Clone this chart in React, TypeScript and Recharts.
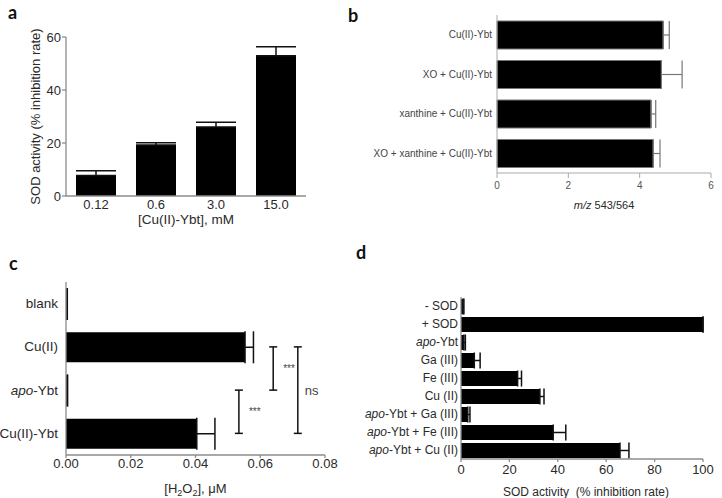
import React from 'react';
import { BarChart, Bar, XAxis, YAxis, ErrorBar, ReferenceLine } from 'recharts';

const FONT = '"Liberation Sans", Arial, sans-serif';
const AXIS = '#8c8c8c';
const INK = '#2a2a2a';

// a — SOD activity vs Cu(II)-Ybt concentration
const aConc = ['0.12', '0.6', '3.0', '15.0'];
const aSod = [7.7, 19.2, 26.0, 52.9];
const aSodErr = [1.8, 0.9, 1.8, 3.4];
const aTicks = [0, 20, 40, 60];

// b — m/z 543/564 ratio
const bCond = ['Cu(II)-Ybt', 'XO + Cu(II)-Ybt', 'xanthine + Cu(II)-Ybt', 'XO + xanthine + Cu(II)-Ybt'];
const bRatio = [4.66, 4.61, 4.32, 4.38];
const bRatioErr = [0.17, 0.58, 0.13, 0.19];
const bTicks = [0, 2, 4, 6];

// c — H2O2 produced
const cCond = ['blank', 'Cu(II)', 'apo-Ybt', 'Cu(II)-Ybt'];
const cH2o2 = [0.0002, 0.0553, 0.0003, 0.0404];
const cH2o2Err = [0.0002, 0.0026, 0.0002, 0.0056];
const cTicks = [0, 0.02, 0.04, 0.06, 0.08];
const sigFrom = ['apo-Ybt', 'Cu(II)', 'Cu(II)'];
const sigTo = ['Cu(II)-Ybt', 'apo-Ybt', 'Cu(II)-Ybt'];
const sigAt = [0.0534, 0.064, 0.0716];
const sigText = ['***', '***', 'ns'];

// d — SOD activity of metal complexes
const dCond = ['- SOD', '+ SOD', 'apo-Ybt', 'Ga (III)', 'Fe (III)', 'Cu (II)', 'apo-Ybt + Ga (III)', 'apo-Ybt + Fe (III)', 'apo-Ybt + Cu (II)'];
const dSod = [0.8, 100, 1.2, 5.5, 23.4, 32.6, 2.8, 38.1, 65.7];
const dSodErr = [0.4, 0, 0.6, 2.4, 1.6, 1.7, 0.9, 5.2, 3.7];
const dTicks = [0, 20, 40, 60, 80, 100];

const rows = (names: string[], vals: number[], errs: number[]) =>
  names.map((name, i) => ({ name, value: vals[i], err: [0, errs[i]] }));

const aData = rows(aConc, aSod, aSodErr);
const bData = rows(bCond, bRatio, bRatioErr);
const cData = rows(cCond, cH2o2, cH2o2Err);
const dData = rows(dCond, dSod, dSodErr);

// category label, "apo" in italics
function CondTick(p: any) {
  const v = String(p.payload.value);
  const apo = v.startsWith('apo');
  return (
    <text x={p.x} y={p.y} textAnchor="end" dominantBaseline="central" fontSize={p.size} fill={p.color || INK}>
      {apo ? <><tspan fontStyle="italic">apo</tspan>{v.slice(3)}</> : v}
    </text>
  );
}

const bracket = (text: string) => (p: any) => {
  const top = Math.min(p.y1, p.y2);
  const bot = Math.max(p.y1, p.y2);
  const x = p.x1;
  return (
    <g>
      <line x1={x} y1={top} x2={x} y2={bot} stroke="#111" strokeWidth={1.5} />
      <line x1={x - 4} y1={top} x2={x + 4} y2={top} stroke="#111" strokeWidth={1.5} />
      <line x1={x - 4} y1={bot} x2={x + 4} y2={bot} stroke="#111" strokeWidth={1.5} />
      <text x={x + (text === 'ns' ? 7 : 10)} y={(top + bot) / 2} dominantBaseline="central"
        fontSize={text === 'ns' ? 13 : 10} fill="#444">{text}</text>
    </g>
  );
};

const axisStyle = { stroke: AXIS, strokeWidth: 1.3 };

export default function App() {
  return (
    <div style={{ position: 'absolute', left: 0, top: 0, width: 722, height: 498, background: '#fff', fontFamily: FONT, overflow: 'hidden' }}>
      {/* a */}
      <div style={{ position: 'absolute', left: 0, top: 0 }}>
        <BarChart width={320} height={232} data={aData} margin={{ top: 37, right: 14, left: 0, bottom: 0 }}>
          <XAxis dataKey="name" height={36} tickLine={false} tickSize={0} tickMargin={4} interval={0}
            axisLine={axisStyle} tick={{ fontSize: 13, fill: INK }}
            label={() => (
              <text x={186} y={224} textAnchor="middle" fontSize={13.5} fill={INK}>[Cu(II)-Ybt], mM</text>
            )} />
          <YAxis type="number" width={66} domain={[0, 60]} ticks={aTicks} tickSize={4} tickMargin={1}
            axisLine={axisStyle} tickLine={axisStyle} tick={{ fontSize: 13, fill: INK }}
            label={() => (
              <text transform="translate(35, 116.5) rotate(-90)" textAnchor="middle"
                dominantBaseline="central" fontSize={13} fill={INK}>
                SOD activity (% inhibition rate)
              </text>
            )} />
          <Bar dataKey="value" fill="#000" barSize={40} isAnimationActive={false}>
            <ErrorBar dataKey="err" direction="y" width={20} stroke="#111" strokeWidth={1.5} />
          </Bar>
        </BarChart>
      </div>

      {/* b */}
      <div style={{ position: 'absolute', left: 360, top: 0 }}>
        <BarChart width={362} height={215} data={bData} layout="vertical" margin={{ top: 15, right: 11, left: 0, bottom: 0 }}>
          <XAxis type="number" domain={[0, 6]} ticks={bTicks} height={42} tickSize={5} tickMargin={4}
            axisLine={{ stroke: '#aaa' }} tickLine={{ stroke: '#aaa' }} tick={{ fontSize: 10, fill: '#555' }}
            label={() => (
              <text x={244} y={209} textAnchor="middle" fontSize={11} fill={INK}>
                <tspan fontStyle="italic">m/z</tspan> 543/564
              </text>
            )} />
          <YAxis type="category" dataKey="name" width={137} tickLine={false} tickSize={0} tickMargin={5} interval={0}
            axisLine={{ stroke: '#aaa' }} tick={(p: any) => <CondTick {...p} size={10} color="#444" />} />
          <Bar dataKey="value" fill="#000" stroke="#777" strokeWidth={1} barSize={28} isAnimationActive={false}>
            <ErrorBar dataKey="err" direction="x" width={14} stroke="#777" strokeWidth={1.2} />
          </Bar>
        </BarChart>
      </div>

      {/* c */}
      <div style={{ position: 'absolute', left: 0, top: 250 }}>
        <BarChart width={340} height={248} data={cData} layout="vertical" margin={{ top: 32, right: 15, left: 0, bottom: 0 }}>
          <XAxis type="number" domain={[0, 0.08]} ticks={cTicks} height={43} tickSize={3} tickMargin={1}
            tickFormatter={(v: number) => v.toFixed(2)}
            axisLine={axisStyle} tickLine={axisStyle} tick={{ fontSize: 13, fill: INK }}
            label={() => (
              <text x={195.5} y={242.5} textAnchor="middle" fontSize={13} fill={INK}>
                [H<tspan fontSize={9} dy={3}>2</tspan><tspan dy={-3}>O</tspan><tspan fontSize={9} dy={3}>2</tspan><tspan dy={-3}>], μM</tspan>
              </text>
            )} />
          <YAxis type="category" dataKey="name" width={66} tickLine={false} tickSize={0} tickMargin={8} interval={0}
            axisLine={axisStyle} tick={(p: any) => <CondTick {...p} size={13.5} />} />
          <Bar dataKey="value" fill="#000" barSize={30} isAnimationActive={false}>
            <ErrorBar dataKey="err" direction="x" width={16} stroke="#111" strokeWidth={1.5} />
          </Bar>
          {sigText.map((t, i) => (
            <ReferenceLine key={i} ifOverflow="visible"
              segment={[{ x: sigAt[i], y: sigFrom[i] }, { x: sigAt[i], y: sigTo[i] }]}
              shape={bracket(t)} />
          ))}
        </BarChart>
      </div>

      {/* d */}
      <div style={{ position: 'absolute', left: 340, top: 250 }}>
        <BarChart width={382} height={248} data={dData} layout="vertical" margin={{ top: 47, right: 19, left: 0, bottom: 0 }}>
          <XAxis type="number" domain={[0, 100]} ticks={dTicks} height={39} tickSize={3} tickMargin={3}
            axisLine={axisStyle} tickLine={axisStyle} tick={{ fontSize: 13, fill: INK }}
            label={() => (
              <text x={246} y={246} textAnchor="middle" fontSize={12} fill={INK} style={{ whiteSpace: 'pre' }}>
                {'SOD activity  (% inhibition rate)'}
              </text>
            )} />
          <YAxis type="category" dataKey="name" width={121} tickLine={false} tickSize={0} tickMargin={3} interval={0}
            axisLine={axisStyle} tick={(p: any) => <CondTick {...p} size={12} />} />
          <Bar dataKey="value" fill="#000" barSize={15} isAnimationActive={false}>
            <ErrorBar dataKey="err" direction="x" width={8} stroke="#111" strokeWidth={1.5} />
          </Bar>
        </BarChart>
      </div>

      {/* panel letters */}
      <svg width={722} height={498} style={{ position: 'absolute', left: 0, top: 0, pointerEvents: 'none' }}>
        <g fontFamily="Lato, 'Open Sans', sans-serif" fontWeight="bold" fontSize={18} fill="#111">
          <text x={8} y={19}>a</text>
          <text x={348} y={22}>b</text>
          <text x={9} y={270}>c</text>
          <text x={356} y={259}>d</text>
        </g>
      </svg>
    </div>
  );
}
